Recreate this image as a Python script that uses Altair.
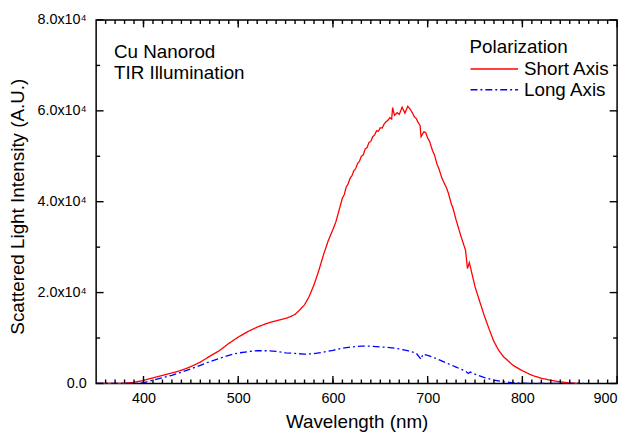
import altair as alt
import pandas as pd

# ---- data ----
short_wl = [350, 360, 370, 380, 390, 400, 410, 420, 430, 440, 450, 460, 470, 480, 490,
            500, 510, 520, 530, 540, 550, 555, 560, 565, 570, 575, 580, 585, 590, 595,
            600, 603, 605, 608, 610, 612, 614, 616, 618, 620, 622, 624, 626, 628, 630,
            632, 634, 636, 638, 640, 642, 644, 646, 648, 650, 652, 654, 656, 658, 660,
            662, 663, 665, 668, 670, 673, 676, 679, 682, 684, 686, 688, 690, 692, 693,
            696, 698, 700, 702, 705, 707, 710, 712, 715, 717, 720, 722, 725, 727, 730,
            735, 740, 742, 744, 750, 755, 760, 765, 770, 775, 780, 790, 800,
            810, 820, 830, 840, 850, 860]
short_val = [0, 0, 0, 50, 250, 650, 1250, 1750, 2300, 2900, 3700, 4700, 6000, 7200, 8800,
             10200, 11400, 12400, 13200, 13800, 14300, 14700, 15200, 16200, 17300, 19200, 21700, 24800, 28300, 31400,
             33900, 35500, 37000, 39300, 40800, 41600, 43200, 43900, 45100, 45700, 46800, 47300, 48400, 48900, 50000,
             50300, 51600, 51900, 53000, 53300, 54300, 54700, 55600, 55500, 56300, 56200, 57100, 57600, 57900, 58500,
             58200, 60700, 59000, 59600, 59200, 60800, 59500, 61000, 60200, 59500, 58700, 58300, 57400, 56800, 54300,
             55400, 55200, 54000, 53300, 51300, 50400, 48200, 47200, 45200, 44300, 43000, 41800, 39500, 38400, 36000,
             32500, 29300, 25300, 26600, 21300, 18000, 14800, 11900, 9200, 7300, 5900, 4000, 2800,
             1800, 1150, 700, 350, 100, 0]

long_wl = [350, 390, 400, 410, 420, 430, 440, 450, 460, 470, 480, 490, 500, 510, 520,
           530, 540, 550, 560, 570, 580, 590, 600, 610, 620, 630, 640, 650, 660, 670,
           680, 688, 693, 695, 700, 710, 720, 730, 740, 743, 745, 750, 760, 770, 780,
           790, 800, 810, 830, 850, 865]
long_val = [0, 0, 150, 700, 1250, 1800, 2500, 3200, 4000, 4800, 5500, 6200, 6700, 7000, 7200,
            7200, 7050, 6750, 6600, 6450, 6550, 6900, 7300, 7750, 8050, 8200, 8200, 8050, 7900, 7600,
            7150, 6650, 5300, 6450, 6200, 5400, 4500, 3600, 2700, 2200, 2500, 2050, 1300, 750, 380,
            150, 50, 0, 0, 0, 0]

series_names = ["Short Axis", "Long Axis"]
series_colors = ["#ff0000", "#0000ff"]
x_major = [400, 500, 600, 700, 800, 900]
x_minor = list(range(360, 900, 10))
y_major = [0, 20000, 40000, 60000, 80000]
y_minor = [10000, 30000, 50000, 70000]
annotation = ["Cu Nanorod", "TIR Illumination"]

rows = [{"wl": w, "val": v, "series": series_names[0]} for w, v in zip(short_wl, short_val)]
rows += [{"wl": w, "val": v, "series": series_names[1]} for w, v in zip(long_wl, long_val)]
df = pd.DataFrame(rows)

W, H = 526, 367
FONT = "Liberation Sans"
TFS = 19
xs = alt.Scale(domain=[350, 900], nice=False)
ys = alt.Scale(domain=[0, 80000], nice=False)

common_axis = dict(domain=False, grid=False, ticks=False,
                   labelFont=FONT, labelFontSize=14.5, labelColor="black",
                   titleFont=FONT, titleFontSize=TFS, titleFontWeight="normal", titleColor="black")

ylabel = "datum.value == 0 ? '0.0' : format(datum.value / 10000, '.1f') + 'x10⁴'"

x_axis = alt.Axis(orient="bottom", values=x_major, labelPadding=8,
                  title="Wavelength (nm)", titlePadding=8, **common_axis)
y_axis = alt.Axis(orient="left", values=y_major, labelPadding=10, labelExpr=ylabel,
                  title="Scattered Light Intensity (A.U.)", titlePadding=10, titleY=188, **common_axis)

legend = alt.Legend(orient="none", legendX=377, legendY=18, title="Polarization",
                    titleFont=FONT, titleFontSize=TFS, titleFontWeight="normal", titleColor="black",
                    labelFont=FONT, labelFontSize=TFS, labelColor="black",
                    symbolType="stroke", symbolSize=2304, symbolStrokeWidth=1.4,
                    labelOffset=5, rowPadding=0, titlePadding=2, clipHeight=21)

lines = alt.Chart(df).mark_line(strokeWidth=1.3).encode(
    x=alt.X("wl:Q", scale=xs, axis=x_axis),
    y=alt.Y("val:Q", scale=ys, axis=y_axis),
    color=alt.Color("series:N", scale=alt.Scale(domain=series_names, range=series_colors), legend=legend),
    strokeDash=alt.StrokeDash("series:N", scale=alt.Scale(domain=series_names, range=[[1, 0], [7, 3, 2, 3]]),
                              legend=legend),
)

xt_major = pd.DataFrame({"wl": x_major})
xt_minor = pd.DataFrame({"wl": x_minor})
yt_major = pd.DataFrame({"val": y_major})
yt_minor = pd.DataFrame({"val": y_minor})


def xticks(data, y_a, y_b):
    return alt.Chart(data).mark_rule(color="black", strokeWidth=1.4).encode(
        x=alt.X("wl:Q", scale=xs, axis=x_axis), y=alt.value(y_a), y2=alt.value(y_b))


def yticks(data, x_a, x_b):
    return alt.Chart(data).mark_rule(color="black", strokeWidth=1.4).encode(
        y=alt.Y("val:Q", scale=ys, axis=y_axis), x=alt.value(x_a), x2=alt.value(x_b))


tick_layers = [
    xticks(xt_major, H, H - 7.5), xticks(xt_minor, H, H - 4),
    xticks(xt_major, 0, 7.5), xticks(xt_minor, 0, 4),
    yticks(yt_major, 0, 7.5), yticks(yt_minor, 0, 4),
    yticks(yt_major, W, W - 7.5), yticks(yt_minor, W, W - 4),
]

text = alt.Chart(alt.Data(values=[{}])).mark_text(
    text=annotation, align="left", baseline="alphabetic", font=FONT, fontSize=TFS,
    lineHeight=21, color="black"
).encode(x=alt.value(18), y=alt.value(38.5))

chart = alt.layer(lines, *tick_layers, text).properties(
    width=W, height=H,
    autosize=alt.AutoSizeParams(type="none"),
    padding={"left": 89, "top": 10, "right": 10, "bottom": 54},
    background="white",
).configure_view(stroke="black", strokeWidth=1.5)

chart.save("out.html", embed_options={"renderer": "svg", "actions": False})
